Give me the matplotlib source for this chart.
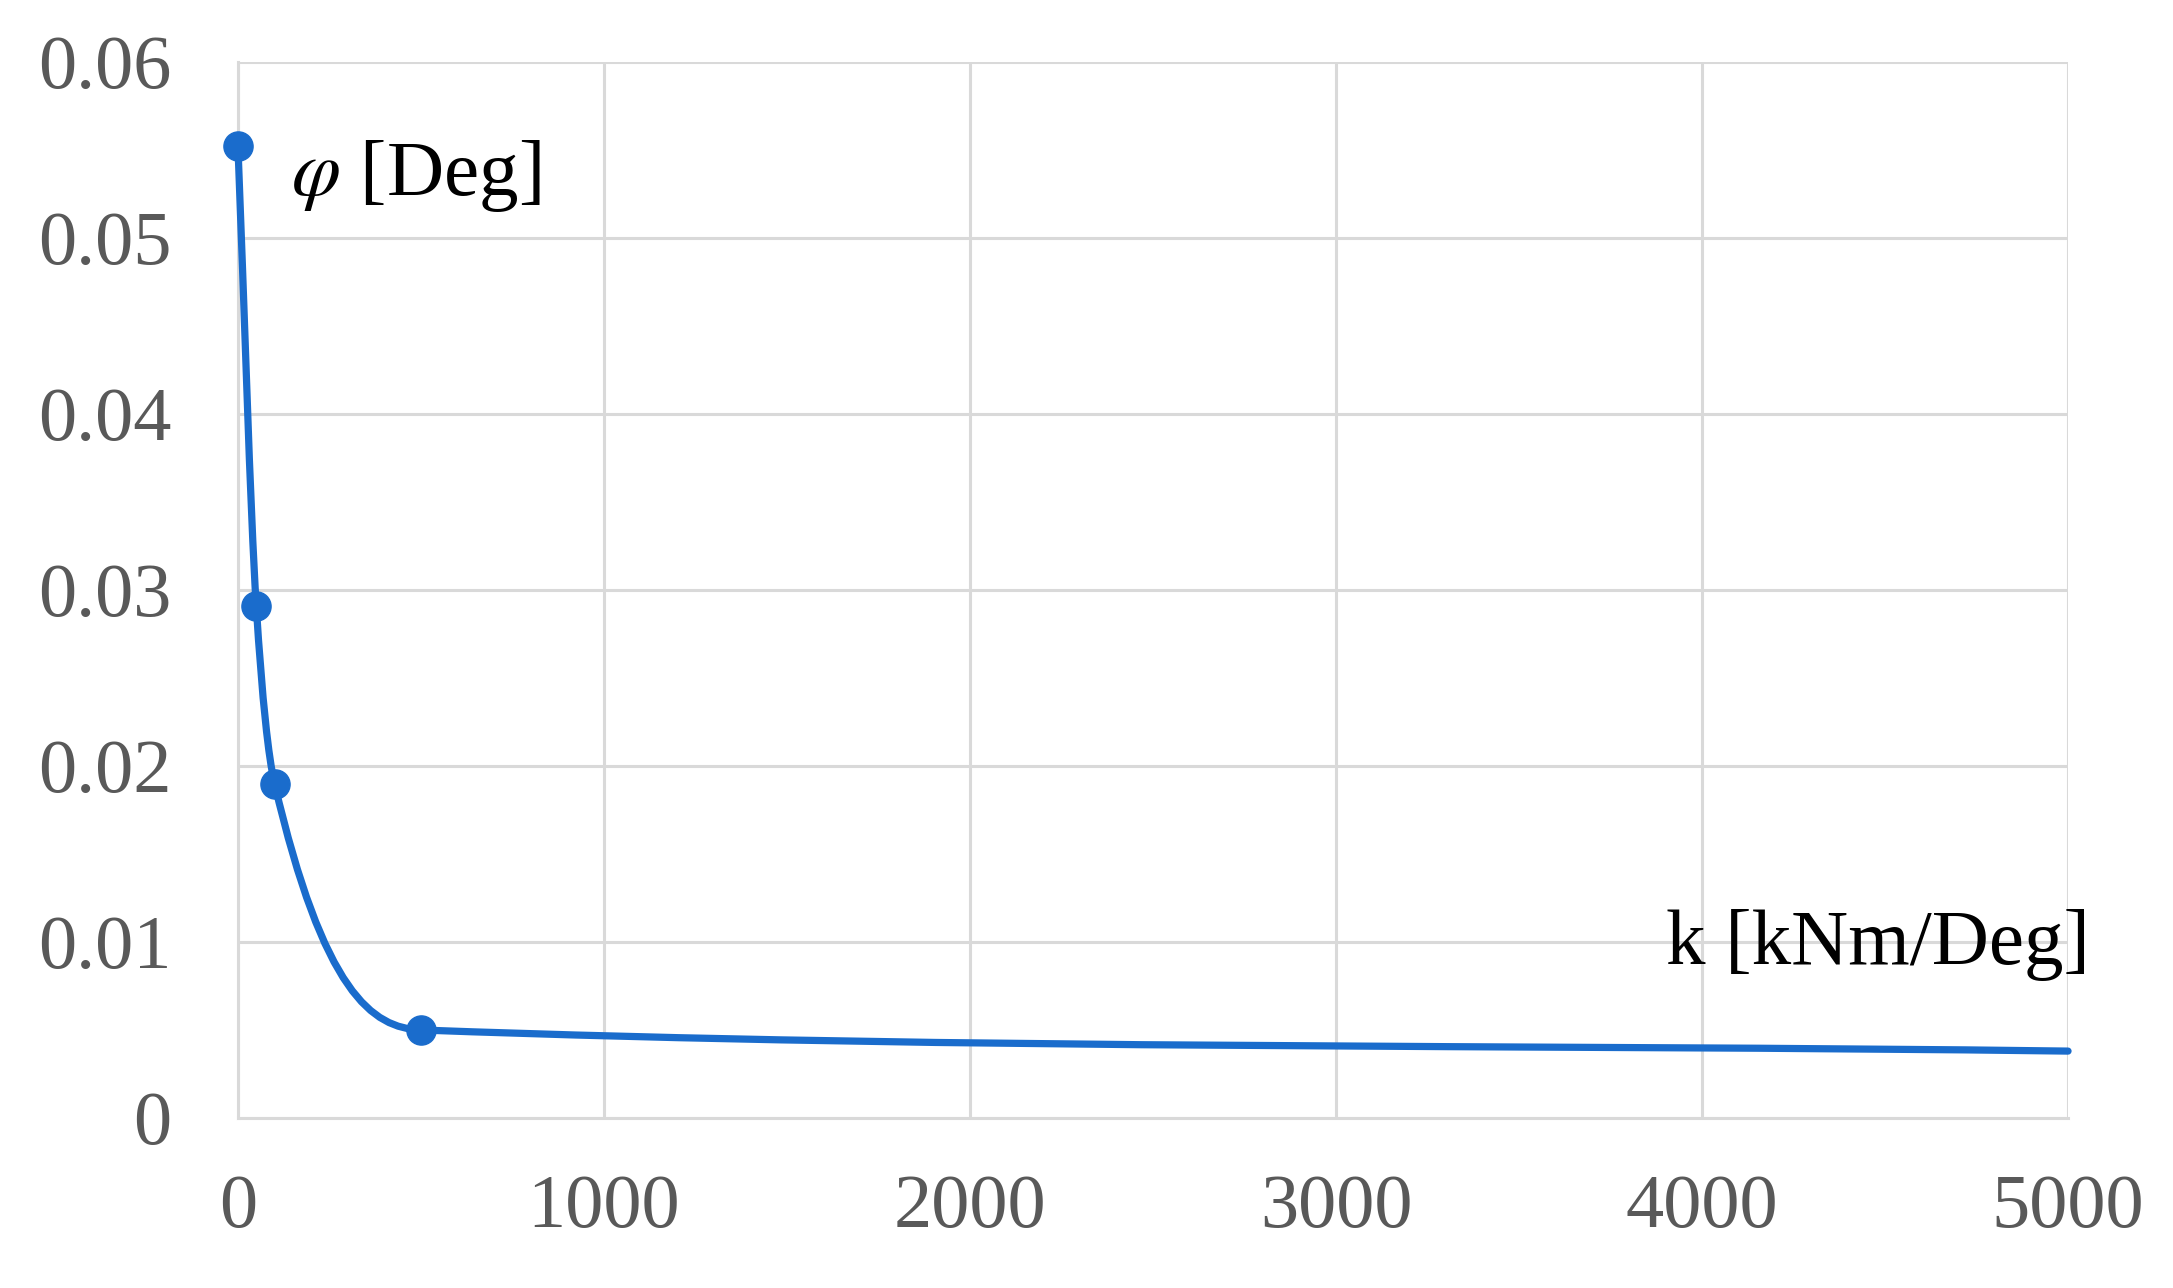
import numpy as np
import matplotlib
matplotlib.use("Agg")
import matplotlib.pyplot as plt
from matplotlib.path import Path
from matplotlib.patches import PathPatch

plt.rcParams['font.family'] = ['Liberation Serif', 'DejaVu Serif']
plt.rcParams['mathtext.fontset'] = 'stix'

# data
k_vals = [0, 50, 100, 500, 5000]          # k [kNm/Deg]
phi_vals = [0.0552, 0.0291, 0.0190, 0.0050, 0.0038]   # phi [Deg]
n_markers = 4                               # markers shown on first points only
x_ticks = [0, 1000, 2000, 3000, 4000, 5000]
y_ticks = [0, 0.01, 0.02, 0.03, 0.04, 0.05, 0.06]
y_labels = ['0', '0.01', '0.02', '0.03', '0.04', '0.05', '0.06']

blue = '#1a6ccc'
grid_c = '#d9d9d9'
tick_c = '#595959'


def smooth_slopes(x, y):
    # tangents for a smoothed line: blend of monotone (pchip) and mean slope
    x = np.asarray(x, float)
    y = np.asarray(y, float)
    h = np.diff(x)
    d = np.diff(y) / h
    m = np.zeros_like(y)
    m[0], m[-1] = d[0], d[-1]
    for i in range(1, len(x) - 1):
        if d[i - 1] * d[i] <= 0:
            m[i] = 0
            continue
        w1 = 2 * h[i] + h[i - 1]
        w2 = h[i] + 2 * h[i - 1]
        harm = (w1 + w2) / (w1 / d[i - 1] + w2 / d[i])
        lim = 3 * min(abs(d[i - 1]), abs(d[i]))
        mean = np.sign(d[i]) * min(abs(d[i - 1] + d[i]) / 2, lim)
        m[i] = (harm + mean) / 2
    return m


def smooth_path(x, y):
    m = smooth_slopes(x, y)
    verts = [(x[0], y[0])]
    codes = [Path.MOVETO]
    for i in range(len(x) - 1):
        h = x[i + 1] - x[i]
        verts += [(x[i] + h / 3, y[i] + m[i] * h / 3),
                  (x[i + 1] - h / 3, y[i + 1] - m[i + 1] * h / 3),
                  (x[i + 1], y[i + 1])]
        codes += [Path.CURVE4] * 3
    return Path(verts, codes)


fig = plt.figure(figsize=(21.73, 12.88), dpi=100)
ax = fig.add_axes([0.1095, 0.132, 0.9517 - 0.1095, 0.952 - 0.132])

ax.set_xlim(0, 5000)
ax.set_ylim(0, 0.06)
ax.set_xticks(x_ticks)
ax.set_yticks(y_ticks)
ax.set_yticklabels(y_labels)
ax.grid(True, color=grid_c, linewidth=2.2)
ax.set_axisbelow(True)
for s in ['top', 'right']:
    ax.spines[s].set_visible(False)
for s in ['left', 'bottom']:
    ax.spines[s].set_color(grid_c)
    ax.spines[s].set_linewidth(2.2)
ax.tick_params(axis='both', length=0, labelsize=55, colors=tick_c)
ax.tick_params(axis='y', pad=48)
ax.tick_params(axis='x', pad=40)

ax.add_patch(PathPatch(smooth_path(k_vals, phi_vals), facecolor='none',
                       edgecolor=blue, linewidth=5.2, clip_on=False,
                       capstyle='round', joinstyle='round', zorder=3))
ax.plot(k_vals[:n_markers], phi_vals[:n_markers], 'o', color=blue,
        markersize=21, clip_on=False, zorder=4)

ax.text(145, 0.0535, r'$\varphi$ [Deg]', fontsize=57, va='center', ha='left')
ax.text(5060, 0.0098, 'k [kNm/Deg]', fontsize=57, va='center', ha='right',
        clip_on=False)

fig.savefig('out.png', dpi=100)
